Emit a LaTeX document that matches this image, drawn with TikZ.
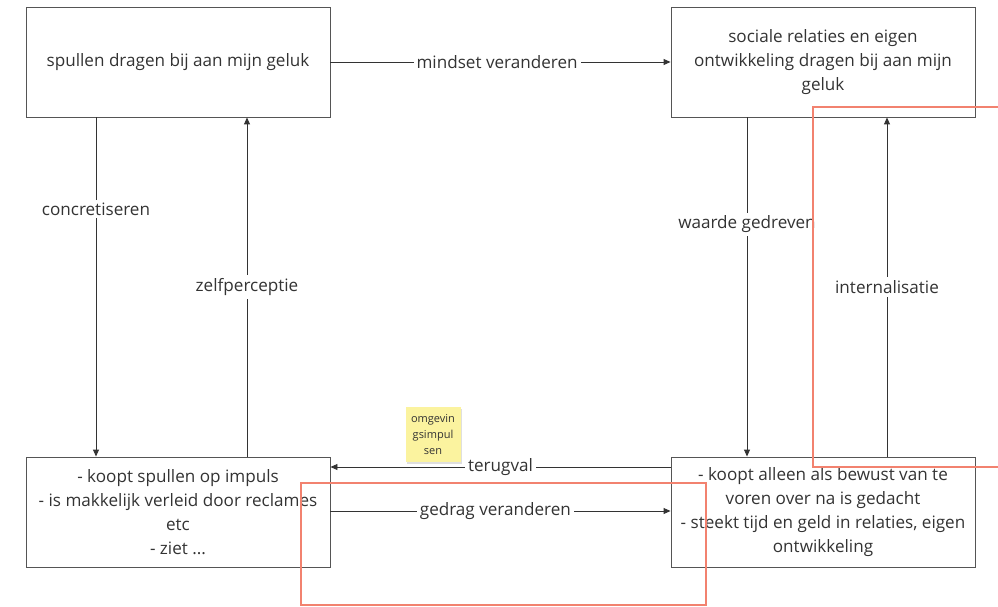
\documentclass[tikz,border=0pt]{standalone}
\usepackage{fontspec}
\setmainfont{Open Sans}
\usetikzlibrary{arrows.meta,shadows}
\definecolor{txt}{HTML}{333333}
\definecolor{boxline}{HTML}{555555}
\definecolor{redline}{HTML}{F2826F}
\definecolor{sticky}{HTML}{FBF39F}
\tikzset{
  box/.style={draw=boxline,line width=0.9pt,minimum width=304pt,minimum height=110pt,align=center,font=\fontsize{17.1}{24}\selectfont,text=txt,inner sep=0pt},
  conn/.style={draw=txt,line width=0.9pt,-{Triangle[length=7pt,width=6pt]}},
  lab/.style={fill=white,font=\fontsize{17.1}{20}\selectfont,text=txt,inner sep=3pt},
  redbox/.style={draw=redline,line width=1.1pt},
}
\begin{document}
\begin{tikzpicture}[x=1pt,y=-1pt]
\useasboundingbox (0,0) rectangle (998,607);
\node[box] (tl) at (178,62) {spullen dragen bij aan mijn geluk};
\node[box] (tr) at (823,62) {sociale relaties en eigen\\ontwikkeling dragen bij aan mijn\\geluk};
\node[box] (bl) at (178,512) {- koopt spullen op impuls\\- is makkelijk verleid door reclames\\etc\\- ziet ...};
\node[box] (br) at (823,512) {- koopt alleen als bewust van te\\voren over na is gedacht\\- steekt tijd en geld in relaties, eigen\\ontwikkeling};
% top
\draw[conn] (tl.east) -- node[lab,pos=0.49] {mindset veranderen} (tr.west);
% left verticals
\draw[conn] (tl.south -| 96,0) -- node[lab,pos=0.27] {concretiseren} (bl.north -| 96,0);
\draw[conn] (bl.north -| 247,0) -- node[lab,pos=0.5] {zelfperceptie} (tl.south -| 247,0);
% right verticals
\draw[conn] (tr.south -| 747,0) -- node[lab,pos=0.315] {waarde gedreven} (br.north -| 747,0);
\draw[conn] (br.north -| 887,0) -- node[lab,pos=0.5] {internalisatie} (tr.south -| 887,0);
% bottom
\draw[conn] (br.west |- 0,467) -- node[lab,pos=0.5] {terugval} (bl.east |- 0,467);
\draw[conn] (bl.east |- 0,511) -- node[lab,pos=0.485] {gedrag veranderen} (br.west |- 0,511);
% sticky note
\node[fill=sticky,minimum width=55pt,minimum height=55pt,text width=52pt,align=center,inner sep=1pt,
  font=\fontsize{11}{16}\selectfont,text=txt,drop shadow={shadow xshift=1pt,shadow yshift=-2pt,opacity=0.25}] (note) at (433,434.5) {omgevin\\gsimpul\\sen};
% red rectangles
\draw[redbox] (1005,107) -- (813,107) -- (813,467) -- (1005,467);
\draw[redbox] (301,483) rectangle (706,605);
\end{tikzpicture}
\end{document}
